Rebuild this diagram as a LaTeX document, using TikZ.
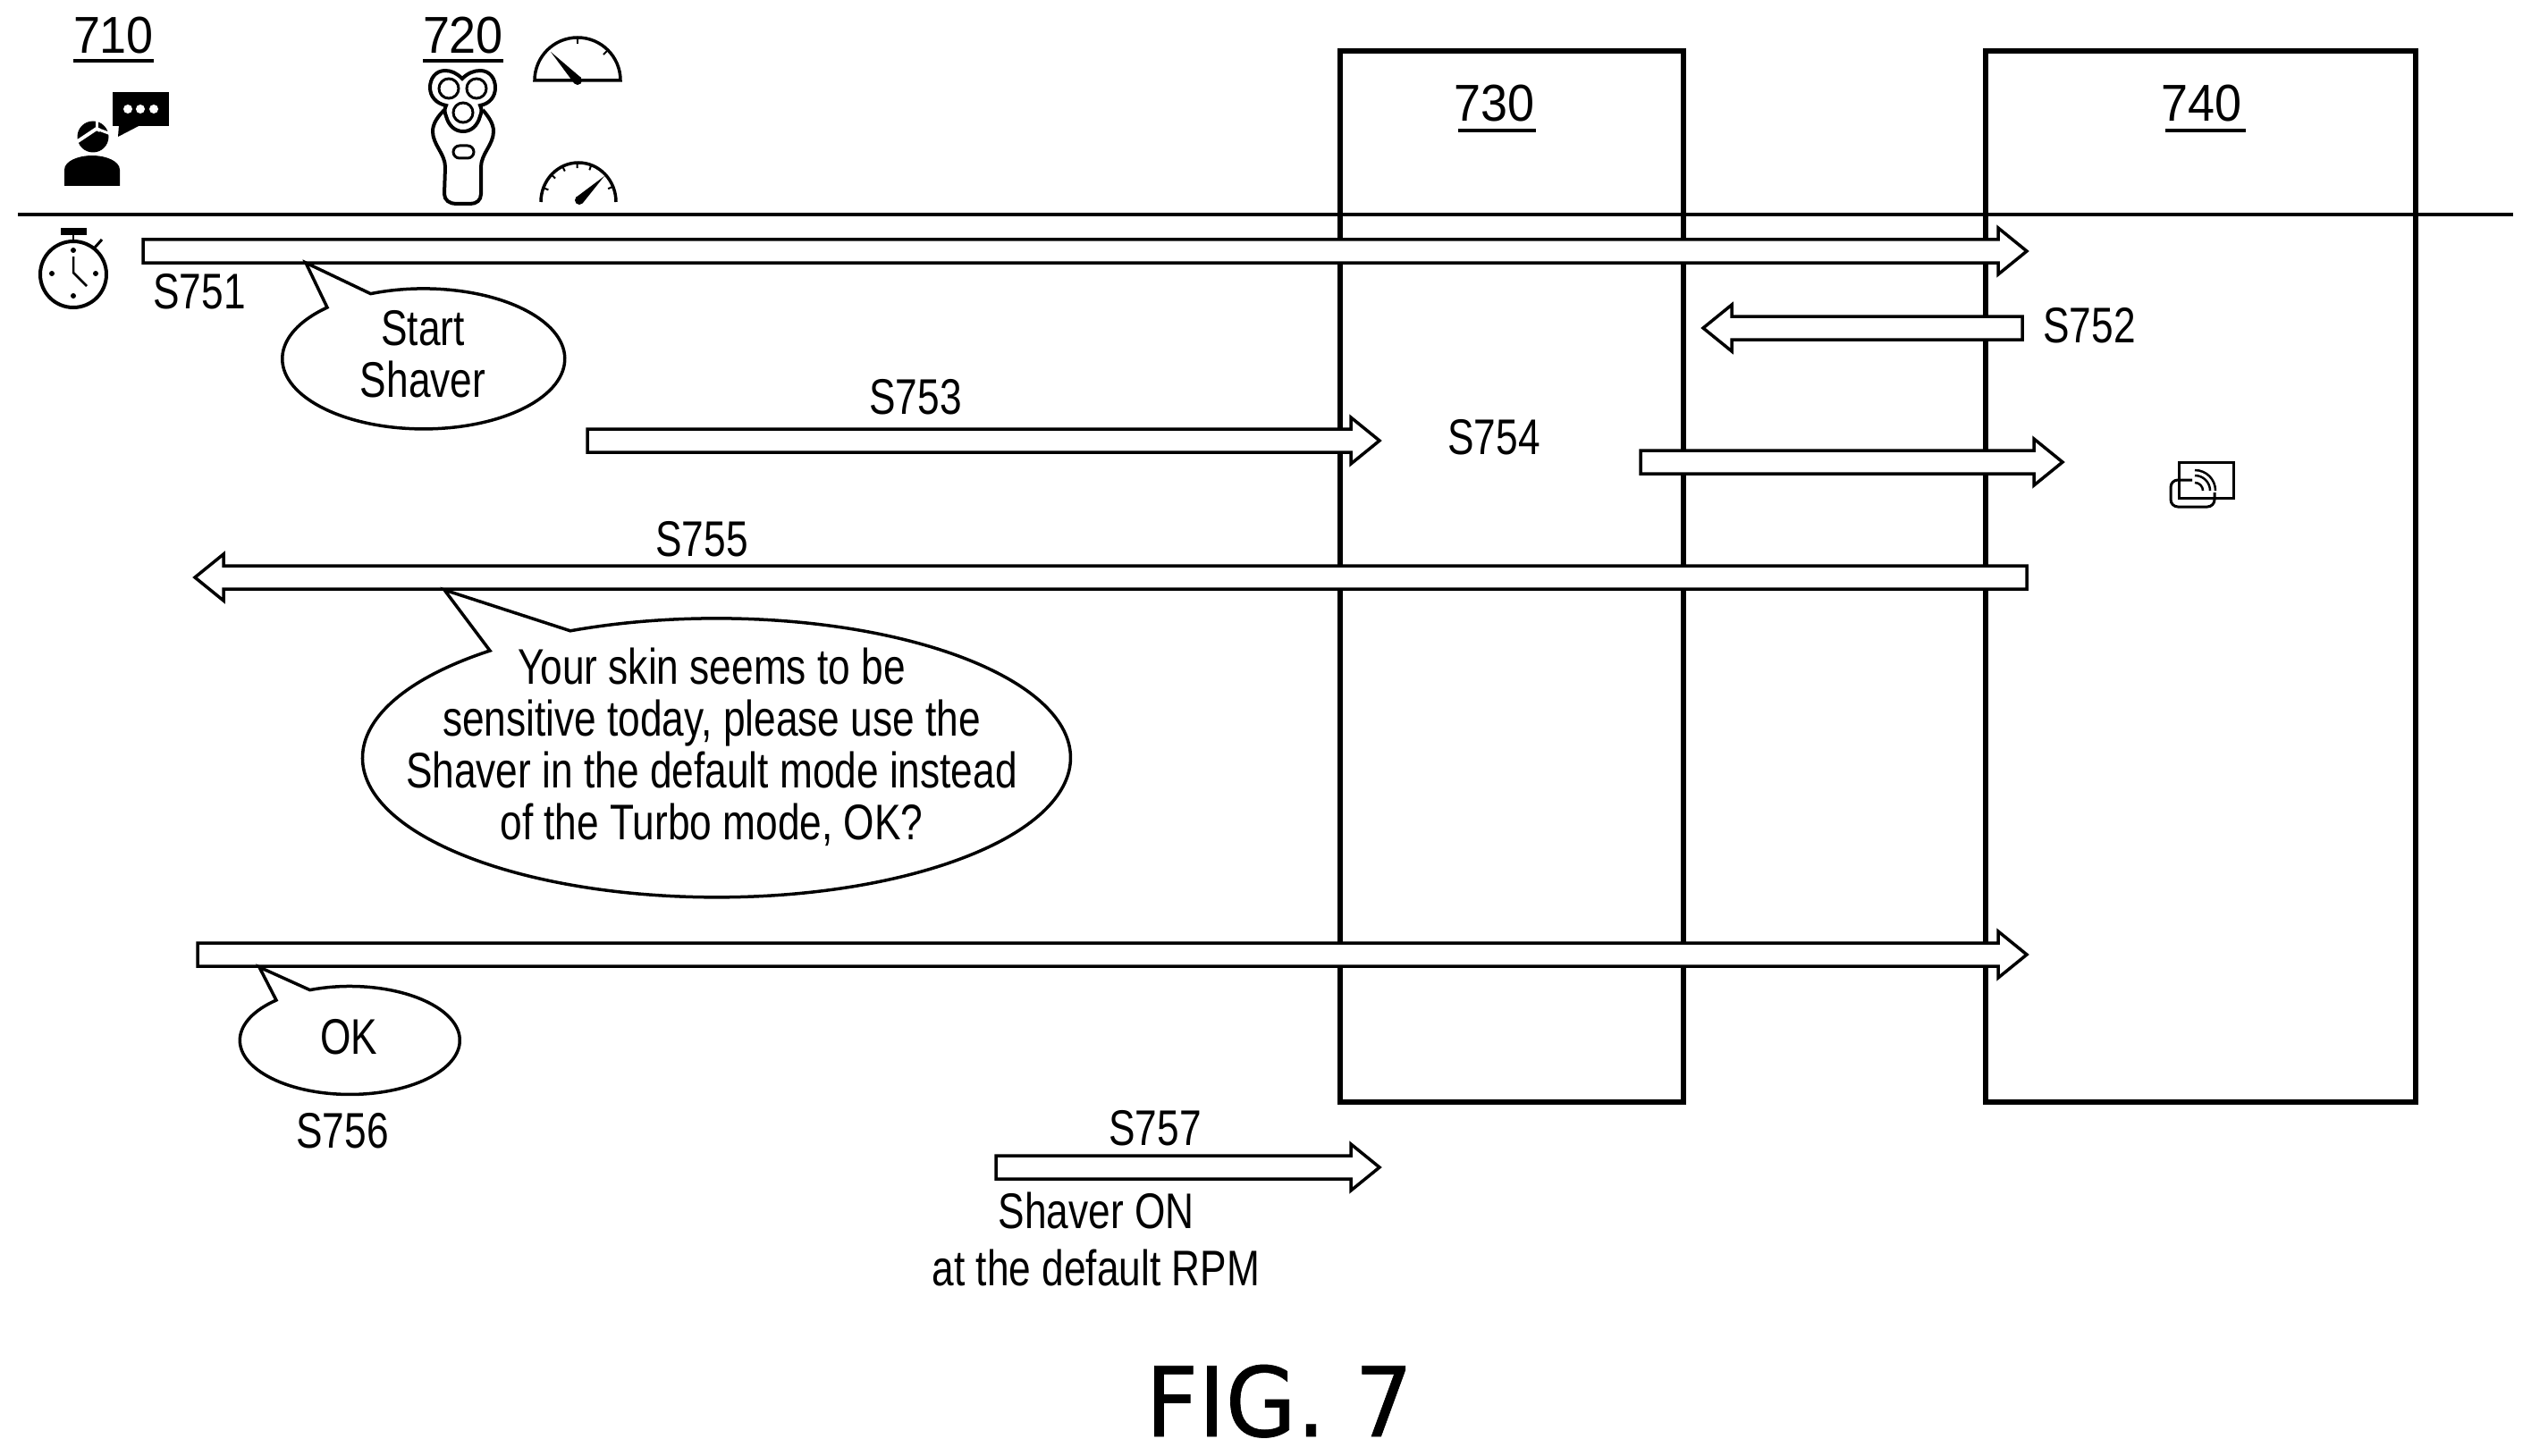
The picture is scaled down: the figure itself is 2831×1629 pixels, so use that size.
\documentclass[tikz,border=0pt]{standalone}
\usepackage{fontspec}
\setmainfont[FakeStretch=0.79]{Liberation Sans}
\newfontfamily\numfont[FakeStretch=0.93]{Liberation Sans}
\newfontfamily\figfont[FakeStretch=0.95,FakeBold=0.6]{DejaVu Sans}
\tikzset{
  lbl/.style={inner sep=0pt,outer sep=0pt,anchor=base,font=\fontsize{56}{58}\selectfont},
  multi/.style={inner sep=0pt,outer sep=0pt,anchor=center,align=center,font=\fontsize{56}{58}\selectfont},
  numlbl/.style={inner sep=0pt,outer sep=0pt,anchor=base,font=\numfont\fontsize{58}{60}\selectfont},
  lane/.style={draw=black,line width=6.5pt},
  barrow/.style={draw=black,fill=white,line width=3.5pt,line join=miter},
  bubble/.style={draw=black,fill=white,line width=3.5pt,line join=miter},
  thin line/.style={draw=black,line width=3.5pt},
  icon/.style={draw=black,line width=4pt},
}
% block arrow: name, tail x, tip x, y
\newcommand\blockarrow[4]{%
  \pgfmathsetmacro\bajoint{#3+32*sign(#2-#3)}%
  \draw[barrow] (#2,#4-13) -- (\bajoint,#4-13) -- (\bajoint,#4-26) -- (#3,#4) -- (\bajoint,#4+26) -- (\bajoint,#4+13) -- (#2,#4+13) -- cycle;
  \coordinate (#1) at (#3,#4);
}
\begin{document}
\begin{tikzpicture}[x=1pt,y=-1pt]
\useasboundingbox (0,0) rectangle (2831,1629);
% lanes
\draw[lane] (1499,57) rectangle (1883,1233);
\draw[lane] (2221,57) rectangle (2702,1233);
\draw[thin line] (20,240) -- (2811,240);
% labels with underline
\node[numlbl] (n710) at (127,60) {710};
\draw[thin line] (82,68) -- (172,68);
\node[numlbl] (n720) at (518,60) {720};
\draw[thin line] (473,68) -- (563,68);
\node[numlbl] (n730) at (1671,136) {730};
\draw[thin line] (1631,146) -- (1718,146);
\node[numlbl] (n740) at (2462,136) {740};
\draw[thin line] (2422,146) -- (2512,146);
% block arrows
\blockarrow{a751}{160}{2267}{281}
\blockarrow{a752}{2262}{1905}{367}
\blockarrow{a753}{657}{1543}{493}
\blockarrow{a754}{1835}{2307}{517}
\blockarrow{a755}{2267}{218}{646}
\blockarrow{a756}{221}{2267}{1068}
\blockarrow{a757}{1114}{1543}{1306}
% step labels
\node[lbl] (s751) at (223,345) {S751};
\node[lbl] (s752) at (2337,383) {S752};
\node[lbl] (s753) at (1024,463) {S753};
\node[lbl] (s754) at (1671,508) {S754};
\node[lbl] (s755) at (785,622) {S755};
\node[lbl] (s756) at (383,1284) {S756};
\node[lbl] (s757) at (1292,1281) {S757};
% speech bubbles
\draw[bubble] (342,294) -- (366,344) arc[start angle=133,end angle=472,x radius=158pt,y radius=78.5pt] -- cycle;
\node[multi] (tstart) at (473,396) {Start\\Shaver};
\draw[bubble] (497,660) -- (548,728) arc[start angle=129.8,end angle=474.4,x radius=396pt,y radius=156pt] -- cycle;
\node[multi] (tskin) at (796,836) {Your skin seems to be\\sensitive today, please use the\\Shaver in the default mode instead\\of the Turbo mode, OK?};
\draw[bubble] (290,1082) -- (309,1119) arc[start angle=132,end angle=471.3,x radius=123pt,y radius=60.5pt] -- cycle;
\node[lbl] (tok) at (390,1179) {OK};
\node[multi] (tshaver) at (1226,1386) {Shaver ON\\[6pt]at the default RPM};
\node[inner sep=0pt,anchor=base,font=\figfont\fontsize{108}{110}\selectfont] (fig) at (1431,1607) {FIG. 7};
% person
\fill (126,103) rectangle (189,141);
\fill (133,140) -- (132,153) -- (157,140) -- cycle;
\foreach \x in {143,157,172} \fill[white] (\x,122) circle[radius=5pt];
\fill (104,153) circle[radius=17.5pt];
\draw[white,line width=4pt] (84,160) -- (108,144);
\draw[white,line width=3pt] (108,144) -- (124,150);
\draw[white,line width=3pt] (108,144) -- (108,132);
\draw[white,line width=4pt] (108,144) -- (112,146);
\fill (72,208) -- (72,190) .. controls (72,180) and (88,174) .. (103,174) .. controls (118,174) and (134,180) .. (134,190) -- (134,208) -- cycle;
% shaver
\draw[icon] (497,123) .. controls (490,130) and (484,138) .. (484,147) .. controls (484,162) and (498,172) .. (498,187) -- (497,217) .. controls (497,224) and (503,228) .. (510,228) -- (526,228) .. controls (533,228) and (538,224) .. (538,217) -- (538,187) .. controls (538,172) and (552,162) .. (552,147) .. controls (552,138) and (546,130) .. (540,123);
\draw[icon,fill=white] (517,88) .. controls (523,82) and (530,79) .. (537,79) .. controls (548,79) and (554,88) .. (554,98) .. controls (554,108) and (548,116) .. (537,118) .. controls (539,122) and (539,125) .. (537,130) .. controls (534,141) and (527,147) .. (518,147) .. controls (509,147) and (502,141) .. (499,130) .. controls (497,125) and (497,122) .. (499,118) .. controls (488,116) and (481,108) .. (481,98) .. controls (481,88) and (487,79) .. (498,79) .. controls (505,79) and (511,82) .. (517,88) -- cycle;
\draw[black,line width=3pt] (502,99) circle[radius=11pt];
\draw[black,line width=3pt] (533,99) circle[radius=11pt];
\draw[black,line width=3pt] (518,126) circle[radius=11pt];
\draw[black,line width=3pt,rounded corners=7pt] (507,163) rectangle (530,177);
% gauges
\draw[black,line width=3.5pt] (598,90) arc[start angle=180,end angle=0,radius=48pt] -- cycle;
\fill (616,58) -- (650,87) -- (642,93) -- cycle;
\fill (646,90) circle[radius=5pt];
\foreach \a in {90,45} \draw[black,line width=2pt] ({646+48*cos(\a)},{90-48*sin(\a)}) -- ({646+41*cos(\a)},{90-41*sin(\a)});
\draw[black,line width=3.5pt] (605,226) arc[start angle=180,end angle=0,x radius=42pt,y radius=44pt];
\fill (676,197) -- (652,227) -- (644,221) -- cycle;
\fill (648,224) circle[radius=5pt];
\foreach \a in {159,136,115,92,70,23} \draw[black,line width=2pt] ({647+42*cos(\a)},{226-44*sin(\a)}) -- ({647+36*cos(\a)},{226-38*sin(\a)});
% stopwatch
\fill (68,255) rectangle (97,263);
\draw[black,line width=2.5pt] (82,263) -- (82,270);
\draw[icon] (82,307) circle[radius=37pt];
\draw[black,line width=3pt] (106,277) -- (114,268);
\foreach \p/\q in {82/280,107/306,58/306,82/331} \fill (\p,\q) circle[radius=3pt];
\draw[black,line width=2.5pt] (82,287) -- (82,305) -- (97,320);
% cast icon
\draw[black,line width=3pt] (2437,517) rectangle (2498,557);
\draw[black,line width=3pt,rounded corners=8pt] (2452,537) -- (2428,537) -- (2428,567) -- (2477,567) -- (2477,551);
\draw[black,line width=2.5pt] (2455,526) arc[start angle=90,end angle=0,radius=23pt];
\draw[black,line width=2.5pt] (2455,532) arc[start angle=90,end angle=0,radius=17pt];
\draw[black,line width=2.5pt] (2455,540) arc[start angle=90,end angle=0,radius=9pt];
\end{tikzpicture}
\end{document}
